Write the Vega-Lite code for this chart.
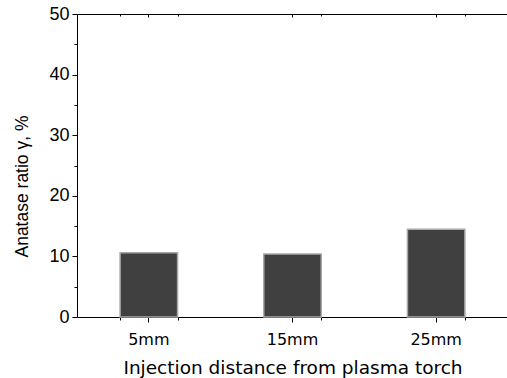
{
  "$schema": "https://vega.github.io/schema/vega-lite/v6.json",
  "autosize": {"type": "none"},
  "padding": {"left": 77, "top": 14, "right": 0, "bottom": 61},
  "width": 431,
  "height": 303,
  "background": "white",
  "config": {
    "view": {"stroke": null},
    "axis": {"domainColor": "black", "tickColor": "black", "labelColor": "black", "titleColor": "black", "grid": false, "titleFontWeight": "normal"},
    "axisLeft": {
      "title": "Anatase ratio γ, %",
      "values": [0, 5, 10, 15, 20, 25, 30, 35, 40, 45, 50],
      "labelExpr": "datum.value % 10 === 0 ? datum.label : ''",
      "tickSize": {"condition": {"test": "datum.value % 10 === 0", "value": 5}, "value": 3},
      "labelFont": "Liberation Sans", "labelFontSize": 18, "labelPadding": 3,
      "titleFont": "Liberation Sans", "titleFontSize": 17.5,
      "titleX": -55, "titleY": 172, "titleAlign": "center", "titleBaseline": "middle", "titleAngle": -90
    }
  },
  "data": {
    "values": [
      {"distance": "5mm", "ratio": 10.6},
      {"distance": "15mm", "ratio": 10.4},
      {"distance": "25mm", "ratio": 14.5}
    ]
  },
  "layer": [
    {
      "mark": {"type": "bar", "fill": "#404040", "stroke": "#a8a8a8", "strokeWidth": 1.5},
      "encoding": {
        "x": {
          "field": "distance", "type": "nominal", "sort": ["5mm", "15mm", "25mm"],
          "scale": {"paddingInner": 0.6, "paddingOuter": 0.3},
          "axis": {
            "orient": "bottom", "title": "Injection distance from plasma torch",
            "labelAngle": 0, "labelFont": "DejaVu Sans", "labelFontSize": 16, "labelPadding": 9,
            "tickSize": 5, "titleFont": "DejaVu Sans", "titleFontSize": 18.5,
            "titleBaseline": "middle", "titleY": 50
          }
        },
        "y": {
          "field": "ratio", "type": "quantitative",
          "scale": {"domain": [0, 50], "nice": false},
          "axis": {"orient": "left", "title": "Anatase ratio γ, %"}
        }
      }
    },
    {
      "mark": {"type": "bar", "opacity": 0},
      "encoding": {
        "x": {
          "field": "distance", "type": "nominal", "sort": ["5mm", "15mm", "25mm"],
          "axis": {"orient": "bottom", "title": null, "labels": false, "domain": false, "tickBand": "extent", "tickSize": 3}
        },
        "y": {"field": "ratio", "type": "quantitative", "axis": {"orient": "left", "title": "Anatase ratio γ, %"}}
      }
    },
    {
      "mark": {"type": "bar", "opacity": 0},
      "encoding": {
        "x": {
          "field": "distance", "type": "nominal", "sort": ["5mm", "15mm", "25mm"],
          "axis": {"orient": "top", "title": null, "labels": false, "domain": true, "tickSize": -3}
        },
        "y": {"field": "ratio", "type": "quantitative", "axis": {"orient": "left", "title": "Anatase ratio γ, %"}}
      }
    },
    {
      "mark": {"type": "bar", "opacity": 0},
      "encoding": {
        "x": {
          "field": "distance", "type": "nominal", "sort": ["5mm", "15mm", "25mm"],
          "axis": {"orient": "top", "title": null, "labels": false, "domain": false, "tickBand": "extent", "tickSize": -2}
        },
        "y": {"field": "ratio", "type": "quantitative", "axis": {"orient": "left", "title": "Anatase ratio γ, %"}}
      }
    }
  ],
  "resolve": {"axis": {"x": "independent"}}
}
